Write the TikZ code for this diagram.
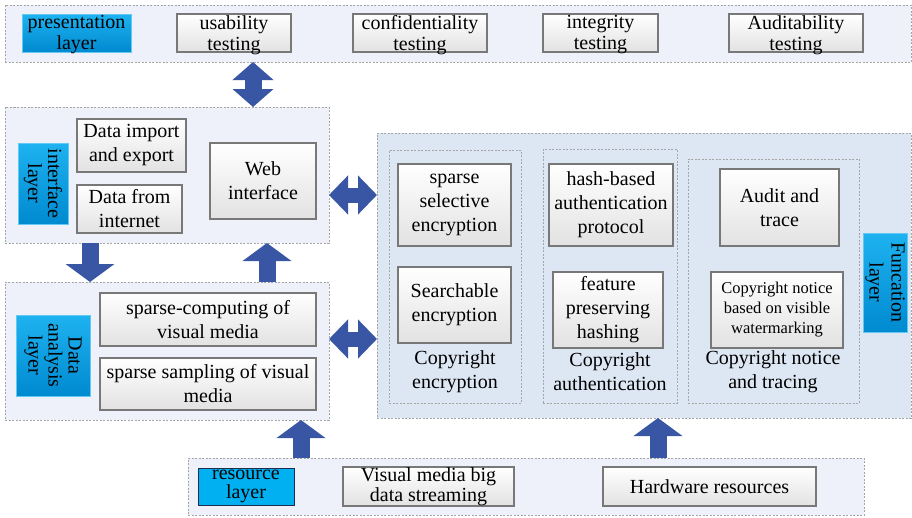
\documentclass[tikz,border=0pt]{standalone}
\usepackage{fontspec}
\setmainfont{Liberation Serif}
\usetikzlibrary{fit,arrows.meta}
\definecolor{cont}{RGB}{238,241,249}
\definecolor{funcbg}{RGB}{221,231,243}
\definecolor{dashc}{RGB}{165,165,165}
\definecolor{boxline}{RGB}{120,120,120}
\definecolor{boxbot}{RGB}{226,226,226}
\definecolor{cyantop}{RGB}{30,178,240}
\definecolor{cyanbot}{RGB}{0,138,208}
\definecolor{resfill}{RGB}{0,176,240}
\definecolor{resline}{RGB}{30,45,80}
\definecolor{arrowc}{RGB}{56,86,163}
\tikzset{
 container/.style={draw=dashc, dash pattern=on 2pt off 1.5pt, line width=0.8pt, fill=cont, inner sep=0pt, outer sep=0pt},
 funccont/.style={container, fill=funcbg},
 grp/.style={draw=dashc, dash pattern=on 2pt off 1.5pt, line width=0.8pt, inner sep=0pt, outer sep=0pt},
 box/.style={draw=boxline, line width=1.2pt, top color=white, bottom color=boxbot, inner sep=0pt, outer sep=0pt},
 lay/.style={top color=cyantop, bottom color=cyanbot, draw=cyantop!70!white, line width=0.5pt, inner sep=0pt, outer sep=0pt},
 reslay/.style={fill=resfill, draw=resline, line width=1pt, inner sep=0pt, outer sep=0pt},
 txt/.style={font=\fontsize{20}{24}\selectfont, align=center, inner sep=0pt},
 tighttxt/.style={font=\fontsize{20}{21}\selectfont, align=center, inner sep=0pt, yshift=-2pt},
 restxt/.style={font=\fontsize{20}{19.5}\selectfont, align=center, inner sep=0pt},
 smalltxt/.style={font=\fontsize{16.5}{20}\selectfont, align=center, inner sep=0pt},
 rottxt/.style={font=\fontsize{20}{20}\selectfont, align=center, inner sep=0pt, rotate=-90},
 rottxtb/.style={font=\fontsize{20}{22}\selectfont, align=center, inner sep=0pt, rotate=-90},
 blk/.style={draw=arrowc, line width=17pt},
 blkone/.style={blk, -{Triangle[width=48pt,length=18pt]}},
 blktwov/.style={blk, {Triangle[width=40pt,length=18pt]}-{Triangle[width=40pt,length=18pt]}},
 blktwoh/.style={draw=arrowc, line width=15pt, {Triangle[width=38pt,length=19pt]}-{Triangle[width=38pt,length=19pt]}},
}
\newcommand\bx[6]{\node[#1, fit={(#4) (#5)}, label={[#2]center:{#6}}] (#3) {};}
\begin{document}
\begin{tikzpicture}[x=1pt,y=-1pt]
\useasboundingbox (0,0) rectangle (912,517);
\fill[white] (0,0) rectangle (912,517);
% containers
\node[container, fit={(5,5) (911,62)}] (pres) {};
\node[container, fit={(5,107) (329,243)}] (intf) {};
\node[container, fit={(5,282) (329,420)}] (anal) {};
\node[funccont, fit={(377,133) (911,418)}] (func) {};
\node[container, fit={(188,458) (864,515)}] (res) {};
\node[grp, fit={(389,150) (521,403)}] (g1) {};
\node[grp, fit={(543,149) (677,403)}] (g2) {};
\node[grp, fit={(688,159) (859,403)}] (g3) {};
% presentation layer
\bx{lay}{tighttxt}{presl}{22,14}{131,52}{presentation\\layer}
\bx{box}{tighttxt}{usab}{177,14}{291,52}{usability\\testing}
\bx{box}{tighttxt}{conf}{353,14}{487,52}{confidentiality\\testing}
\bx{box}{tighttxt}{integ}{543,14}{658,52}{integrity\\testing}
\bx{box}{tighttxt}{audt}{729,14}{863,52}{Auditability\\testing}
% interface layer
\bx{lay}{rottxt}{intfl}{18,143}{68,224}{interface\\layer}
\bx{box}{txt}{dimp}{77,119}{186,172}{Data import\\and export}
\bx{box}{txt}{dfrom}{77,185}{182,233}{Data from\\internet}
\bx{box}{txt}{web}{210,143}{316,219}{Web\\interface}
% data analysis layer
\bx{lay}{rottxt}{anall}{16,315}{90,396}{Data\\analysis\\layer}
\bx{box}{txt}{scomp}{100,293}{316,346}{sparse-computing of\\visual media}
\bx{box}{txt}{ssamp}{100,358}{316,410}{sparse sampling of visual\\media}
% function layer
\bx{box}{txt}{sse}{398,164}{511,246}{sparse\\selective\\encryption}
\bx{box}{txt}{se}{398,267}{511,343}{Searchable\\encryption}
\bx{box}{txt}{hash}{549,164}{673,246}{hash-based\\authentication\\protocol}
\bx{box}{txt}{feat}{553,272}{663,348}{feature\\preserving\\hashing}
\bx{box}{txt}{aud}{720,169}{839,246}{Audit and\\trace}
\bx{box}{smalltxt}{cn}{711,272}{843,348}{Copyright notice\\based on visible\\watermarking}
\node[txt] (cap1) at (455,372) {Copyright\\encryption};
\node[txt] (cap2) at (610,372) {Copyright\\authentication};
\node[txt] (cap3) at (773,372) {Copyright notice\\and tracing};
\bx{lay}{rottxtb}{funcl}{863,233}{907,332}{Funcation\\layer}
% resource layer
\bx{reslay}{restxt}{resl}{198,468}{294,505}{resource\\layer}
\bx{box}{restxt}{vm}{343,467}{514,506}{Visual media big\\data streaming}
\bx{box}{txt}{hw}{603,467}{816,506}{Hardware resources}
% block arrows
\draw[blktwov] (pres.south -| 253,0) -- (intf.north -| 253,0);
\draw[blktwoh] (intf.east |- 0,195) -- (func.west |- 0,195);
\draw[blktwoh] (anal.east |- 0,339) -- (func.west |- 0,339);
\draw[blkone] (intf.south -| 90,0) -- (anal.north -| 90,0);
\draw[blkone] (anal.north -| 267,0) -- (intf.south -| 267,0);
\draw[blkone] (res.north -| 301,0) -- (anal.south -| 301,0);
\draw[blkone] (res.north -| 658,0) -- (func.south -| 658,0);
\end{tikzpicture}
\end{document}
